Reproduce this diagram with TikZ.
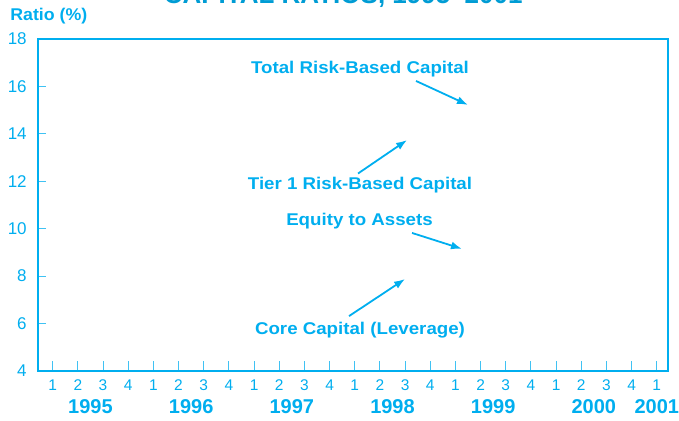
\documentclass[tikz,border=0pt]{standalone}
\usepackage{fontspec}
\setmainfont{Liberation Sans}
\usetikzlibrary{arrows.meta}
\definecolor{chartcyan}{RGB}{0,174,239}
\definecolor{titlecyan}{RGB}{0,156,212}
\tikzset{
  chart title/.style={font=\fontsize{26}{30}\selectfont\bfseries, text=titlecyan, anchor=base},
  series label/.style={font=\fontsize{17}{20}\selectfont\bfseries, text=chartcyan, xscale=1.1, anchor=base},
  series arrow/.style={draw=chartcyan, line width=1.8pt, -{Latex[length=11pt,width=8pt]}},
  axis num/.style={font=\fontsize{17}{20}\selectfont, text=chartcyan},
  quarter num/.style={font=\fontsize{15.5}{18}\selectfont, text=chartcyan, anchor=base},
  year num/.style={font=\fontsize{20}{24}\selectfont\bfseries, text=chartcyan, anchor=base},
  axis tick/.style={draw=chartcyan!75, line width=0.9pt}
}
\begin{document}
\begin{tikzpicture}[x=25.17pt, y=23.71pt]
  \useasboundingbox (-2.094,1.891) rectangle (24.883,19.647);
  \node[chart title] (title) at (11.54,19.52) {CAPITAL RATIOS, 1995–2001};
  \node[series label, anchor=base west, xscale=0.95] (ratio) at (-1.83,18.77) {Ratio (\%)};
  % ticks first, the frame goes over them
  \foreach \q in {0,...,24}
    \draw[axis tick] (\q,4) -- ++(0,0.42);
  \foreach \v in {6,8,...,16}
    \draw[axis tick] (-0.6,\v) -- ++(0.32,0);
  \draw[chartcyan, line width=2pt] (-0.6,4) rectangle (24.45,18);
  \foreach \v in {4,6,...,18}
    \node[axis num, anchor=east, xshift=-7.4pt] (v\v) at (-0.6,\v) {\v};
  \foreach \q in {0,...,24} {
    \pgfmathtruncatemacro\qn{mod(\q,4)+1}
    \node[quarter num] (q\q) at (\q,3.17) {\qn};
  }
  \foreach \yr [count=\i from 0] in {1995,...,2000}
    \node[year num] (y\yr) at (4*\i+1.5,2.216) {\yr};
  \node[year num] (y2001) at (24,2.216) {2001};
  % series labels and pointers
  \node[series label] (total) at (12.21,16.53) {Total Risk-Based Capital};
  \node[series label] (tier1) at (12.21,11.66) {Tier 1 Risk-Based Capital};
  \node[series label] (equity) at (12.19,10.12) {Equity to Assets};
  \node[series label] (core) at (12.21,5.52) {Core Capital (Leverage)};
  \coordinate (total tip) at (16.50,15.22);
  \coordinate (tier1 tip) at (14.08,13.74);
  \coordinate (equity tip) at (16.26,9.15);
  \coordinate (core tip) at (14.00,7.88);
  \draw[series arrow] ([xshift=56pt]total.south) -- (total tip);
  \draw[series arrow] ([xshift=-2pt]tier1.north) -- (tier1 tip);
  \draw[series arrow] ([xshift=52.5pt]equity.south) -- (equity tip);
  \draw[series arrow] ([shift={(-11pt,3pt)}]core.north) -- (core tip);
\end{tikzpicture}
\end{document}
